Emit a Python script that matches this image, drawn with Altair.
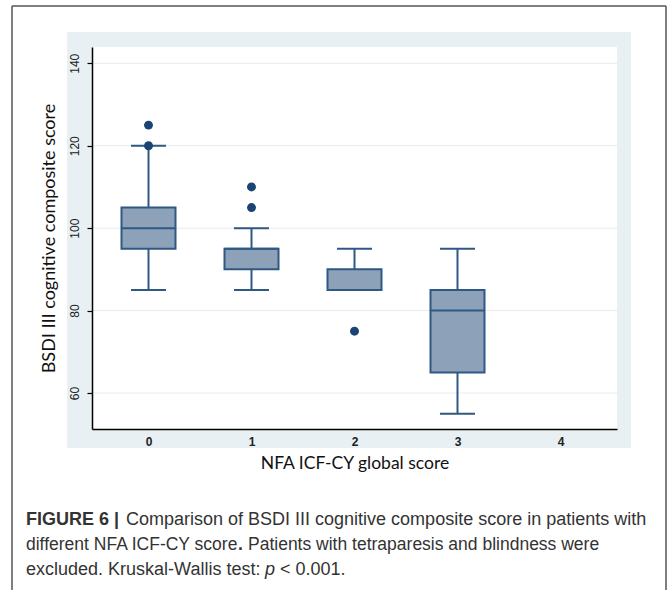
import altair as alt
import pandas as pd

# ---- data ----
groups = [0, 1, 2, 3]
whisker_low = [85, 85, 85, 55]
q1 = [95, 90, 85, 65]
median = [100, 95, 85, 80]
q3 = [105, 95, 90, 85]
whisker_high = [120, 100, 95, 95]
outlier_group = [0, 0, 1, 1, 2]
outlier_value = [120, 125, 105, 110, 75]
y_ticks = [60, 80, 100, 120, 140]
x_ticks = [0, 1, 2, 3, 4]

caption_bold = "FIGURE 6 |"
caption_l1 = "Comparison of BSDI III cognitive composite score in patients with"
caption_l2a = "different NFA ICF-CY score"
caption_l2b = "."
caption_l2c = "Patients with tetraparesis and blindness were"
caption_l3a = "excluded. Kruskal-Wallis test:"
caption_l3b = "p"
caption_l3c = "< 0.001."

box_df = pd.DataFrame({"g": groups, "lo": whisker_low, "q1": q1, "med": median,
                       "q3": q3, "hi": whisker_high})
out_df = pd.DataFrame({"g": outlier_group, "v": outlier_value})
grid_df = pd.DataFrame({"t": y_ticks})
one = pd.DataFrame({"k": [0]})

W, H = 525, 382
LINE = "#2F5883"
FILL = "#8DA2B9"
DOT = "#1B4474"
PANEL = "#E8F0F3"

xs = alt.Scale(domain=[-0.5, 4.5], nice=False, zero=False)
ys = alt.Scale(domain=[51.27, 143.95], nice=False, zero=False)

xax = alt.Axis(values=x_ticks, format="d", ticks=False, grid=False, domainColor="black",
               domainWidth=1.5,
               labelFont="Liberation Sans", labelFontSize=12, labelFontWeight="bold",
               labelColor="#222", labelPadding=7, labelAngle=0,
               title="NFA ICF-CY global score", titleFont="Lato", titleFontSize=17.5,
               titleFontWeight="normal", titleColor="#111", titlePadding=7, zindex=1)
yax = alt.Axis(values=y_ticks, format="d", grid=False, domainColor="black", domainWidth=1.5,
               tickColor="black", tickSize=5, tickWidth=1.2,
               labelFont="Liberation Sans", labelFontSize=12, labelColor="#222",
               labelAngle=270, labelAlign="center", labelBaseline="bottom", labelPadding=6,
               title="BSDI III cognitive composite score", titleFont="Lato", titleFontSize=18,
               titleFontWeight="normal", titleColor="#111", titlePadding=10, zindex=1)

def deco_rect(x, x2, y, y2, color):
    return alt.Chart(one).mark_rect(color=color).encode(
        x=alt.value(x), x2=alt.value(x2), y=alt.value(y), y2=alt.value(y2))

# light panel around the plot area (4 strips)
px0, px1, py0, py1 = 67 - 92, 631 - 92, 32 - 47, 448 - 47
panel = [
    deco_rect(px0, px1, py0, 0, PANEL),
    deco_rect(px0, px1, H, py1, PANEL),
    deco_rect(px0, 0, 0, H, PANEL),
    deco_rect(W, px1, 0, H, PANEL),
]

frame = [
    alt.Chart(one).mark_rule(color="#555", strokeWidth=1.5).encode(
        x=alt.value(12 - 92), y=alt.value(6 - 47), y2=alt.value(590 - 47)),
    alt.Chart(one).mark_rule(color="#555", strokeWidth=1.5).encode(
        x=alt.value(666 - 92), y=alt.value(6 - 47), y2=alt.value(590 - 47)),
    alt.Chart(one).mark_rule(color="#555", strokeWidth=1.5).encode(
        x=alt.value(12 - 92), x2=alt.value(666 - 92), y=alt.value(6 - 47)),
]

grid = alt.Chart(grid_df).mark_rule(color="#E3ECF0", strokeWidth=1).encode(
    y=alt.Y("t:Q", scale=ys, axis=yax))

base = alt.Chart(box_df)
whisk_lo = base.mark_rule(color=LINE, strokeWidth=2).encode(
    x=alt.X("g:Q", scale=xs, axis=xax), y=alt.Y("lo:Q", scale=ys, axis=yax), y2="q1:Q")
whisk_hi = base.mark_rule(color=LINE, strokeWidth=2).encode(
    x=alt.X("g:Q", scale=xs), y=alt.Y("q3:Q", scale=ys), y2="hi:Q")
cap_lo = base.mark_tick(orient="horizontal", size=35, thickness=2, color=LINE, opacity=1).encode(
    x=alt.X("g:Q", scale=xs), y=alt.Y("lo:Q", scale=ys))
cap_hi = base.mark_tick(orient="horizontal", size=35, thickness=2, color=LINE, opacity=1).encode(
    x=alt.X("g:Q", scale=xs), y=alt.Y("hi:Q", scale=ys))
box = base.mark_bar(size=54, orient="vertical", fill=FILL, stroke=LINE, strokeWidth=2).encode(
    x=alt.X("g:Q", scale=xs), y=alt.Y("q1:Q", scale=ys), y2="q3:Q")
med = base.mark_tick(orient="horizontal", size=54, thickness=2, color=LINE, opacity=1).encode(
    x=alt.X("g:Q", scale=xs), y=alt.Y("med:Q", scale=ys))
dots = alt.Chart(out_df).mark_circle(size=80, color=DOT, opacity=1).encode(
    x=alt.X("g:Q", scale=xs), y=alt.Y("v:Q", scale=ys))

CAP_FONT = "Liberation Sans"
CAP_COLOR = "#333"

def cap_text(txt, x, y, size, weight="normal", style="normal"):
    return alt.Chart(one).mark_text(align="left", baseline="middle", font=CAP_FONT,
                                    fontSize=size, fontWeight=weight, fontStyle=style,
                                    color=CAP_COLOR).encode(
        x=alt.value(x - 92), y=alt.value(y - 47), text=alt.value(txt))

captions = [
    cap_text(caption_bold, 26, 520, 18, weight="bold"),
    cap_text(caption_l1, 126, 520, 18),
    cap_text(caption_l2a, 26, 545, 17.5),
    cap_text(caption_l2b, 238, 545, 17.5, weight="bold"),
    cap_text(caption_l2c, 248, 545, 17.5),
    cap_text(caption_l3a, 26, 570, 18),
    cap_text(caption_l3b, 265, 570, 18, style="italic"),
    cap_text(caption_l3c, 280, 570, 18),
]

chart = alt.layer(
    *panel, grid, whisk_lo, whisk_hi, cap_lo, cap_hi, box, med, dots, *frame, *captions
).resolve_scale(x="shared", y="shared").properties(
    width=W, height=H,
    autosize=alt.AutoSizeParams(type="none"),
    padding={"left": 92, "top": 47, "right": 670 - 92 - W, "bottom": 590 - 47 - H},
    background="white",
).configure_view(stroke=None, fill="white")

chart.save("out.html", embed_options={"renderer": "svg", "actions": False})
